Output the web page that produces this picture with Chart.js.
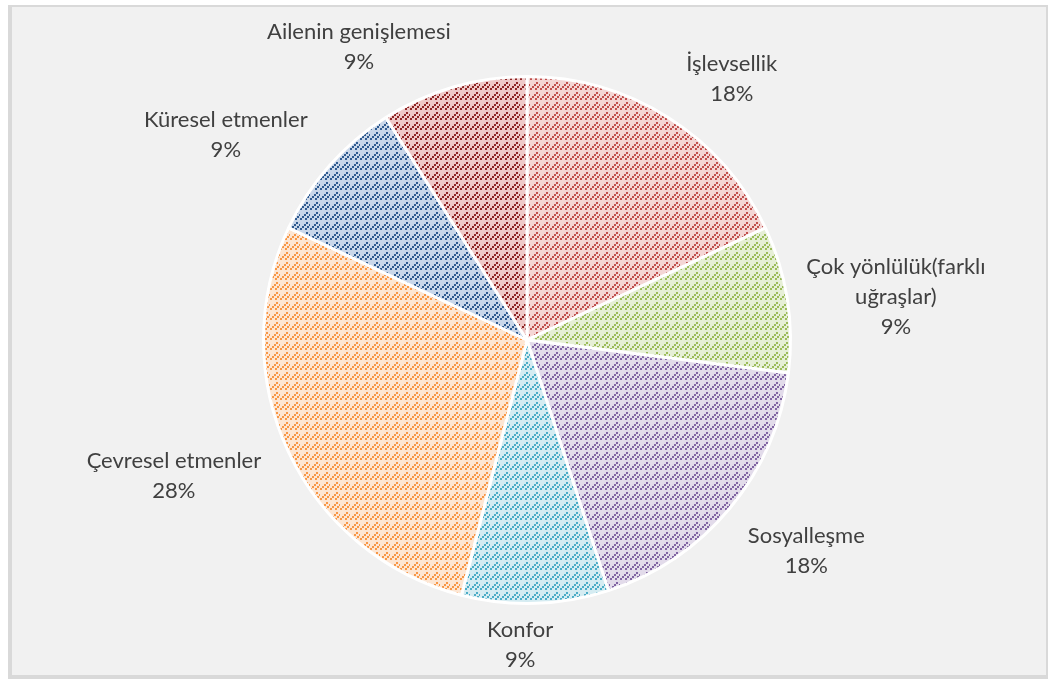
<!DOCTYPE html>
<html>
<head>
<meta charset="utf-8">
<script src="https://cdn.jsdelivr.net/npm/chart.js@4"></script>
<style>
  html, body { margin: 0; padding: 0; background: #ffffff; }
  #frame {
    position: absolute; left: 8px; top: 5px; width: 1034px; height: 668px;
    background: #f1f1f1; border: 4px solid #d9d9d9; border-top-width: 2px;
  }
  #wrap { position: absolute; left: 0; top: 0; width: 1048px; height: 679px; }
</style>
</head>
<body>
<div id="frame"></div>
<div id="wrap"><canvas id="pieChart" width="1048" height="679"></canvas></div>
<script>
const labels = ["İşlevsellik", "Çok yönlülük(farklı uğraşlar)", "Sosyalleşme", "Konfor", "Çevresel etmenler", "Küresel etmenler", "Ailenin genişlemesi"];
const labelLines = [["İşlevsellik"], ["Çok yönlülük(farklı", "uğraşlar)"], ["Sosyalleşme"], ["Konfor"], ["Çevresel etmenler"], ["Küresel etmenler"], ["Ailenin genişlemesi"]];
const shares = [18, 9, 18, 9, 28, 9, 9];

// pattern colours: dots / background
const dotColors = ['#c0504d', '#9bbb59', '#8064a2', '#4bacc6', '#f79646', '#2f5a8f', '#8e2424'];
const bgColors = ['#f4d6d5', '#e6efd6', '#e2dbea', '#d5ecf2', '#fde6d3', '#c9d7ea', '#efc9c8'];

// label placement relative to pie centre, in radius units
const labelPos = [[0.777, -0.992], [1.40, -0.162], [1.06, 0.80], [-0.026, 1.158], [-1.34, 0.517], [-1.143, -0.777], [-0.638, -1.113]];

function makePattern(dot, bg) {
    const c = document.createElement('canvas');
    c.width = 10; c.height = 10;
    const g = c.getContext('2d');
    g.fillStyle = bg;
    g.fillRect(0, 0, 10, 10);
    g.fillStyle = dot;
    // dashed upward diagonals
    [[0, 8], [2, 6], [4, 4], [6, 2], [9, 4], [7, 6], [5, 8]].forEach(p => g.fillRect(p[0], p[1], 2, 2));
    return g.createPattern(c, 'repeat');
}

const ctx = document.getElementById('pieChart').getContext('2d');
const patterns = dotColors.map((d, i) => makePattern(d, bgColors[i]));

const outsideLabels = {
    id: 'outsideLabels',
    afterDraw(chart) {
        const arc = chart.getDatasetMeta(0).data[0];
        const cx = arc.x, cy = arc.y, r = arc.outerRadius;
        const g = chart.ctx;
        g.save();
        g.font = '22px Lato, "Noto Sans", sans-serif';
        g.fillStyle = '#404040';
        g.textAlign = 'center';
        g.textBaseline = 'middle';
        const lh = 30;
        labelLines.forEach((lines, i) => {
            const all = lines.concat([shares[i] + '%']);
            const x = cx + labelPos[i][0] * r;
            const y0 = cy + labelPos[i][1] * r - (all.length - 1) * lh / 2;
            all.forEach((t, k) => g.fillText(t, x, y0 + k * lh));
        });
        g.restore();
    }
};

new Chart(ctx, {
    type: 'pie',
    data: {
        labels: labels,
        datasets: [{
            data: shares,
            backgroundColor: patterns,
            borderColor: '#ffffff',
            borderWidth: 3
        }]
    },
    options: {
        responsive: false,
        animation: false,
        layout: {
            padding: { left: 262, right: 256, top: 74, bottom: 73 }
        },
        plugins: {
            legend: { display: false },
            tooltip: { enabled: false }
        }
    },
    plugins: [outsideLabels]
});
</script>
</body>
</html>
